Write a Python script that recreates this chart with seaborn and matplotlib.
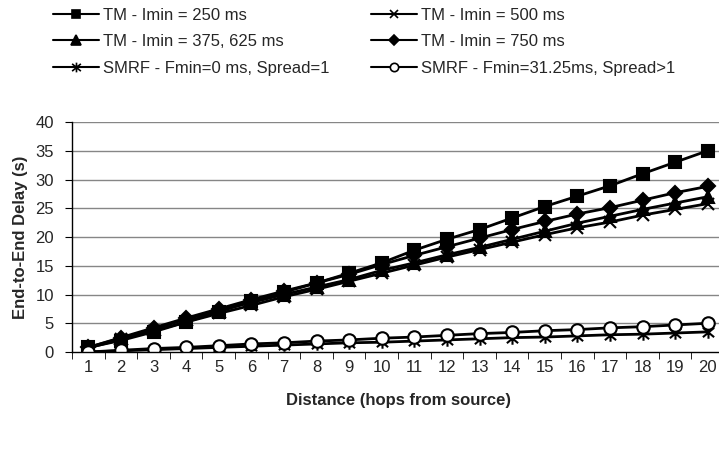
import numpy as np
import pandas as pd
import matplotlib
matplotlib.use("Agg")
import matplotlib.pyplot as plt
import seaborn as sns
from matplotlib.lines import Line2D
from matplotlib.path import Path

hops = list(range(1, 21))
tm_250 = [0.8, 2.0, 3.5, 5.2, 7.0, 8.8, 10.4, 12.0, 13.7, 15.5, 17.7, 19.6, 21.3, 23.3, 25.3, 27.1, 28.9, 31.0, 33.0, 35.0]
tm_500 = [0.7, 2.2, 3.7, 5.2, 6.7, 8.1, 9.6, 10.9, 12.3, 13.7, 15.1, 16.5, 17.8, 19.1, 20.4, 21.6, 22.6, 23.8, 24.8, 25.8]
tm_375_625 = [0.8, 2.4, 4.0, 5.7, 7.2, 8.6, 10.0, 11.3, 12.6, 14.2, 15.5, 16.9, 18.2, 19.6, 21.0, 22.4, 23.6, 24.8, 25.9, 27.0]
tm_750 = [0.8, 2.5, 4.2, 5.9, 7.5, 9.1, 10.6, 12.0, 13.5, 15.2, 16.8, 18.3, 19.8, 21.3, 22.7, 24.0, 25.1, 26.4, 27.7, 28.8]
smrf_0 = [0.0, 0.2, 0.4, 0.6, 0.8, 1.0, 1.2, 1.4, 1.6, 1.7, 1.9, 2.1, 2.3, 2.5, 2.6, 2.8, 3.0, 3.1, 3.3, 3.5]
smrf_31 = [0.0, 0.3, 0.6, 0.8, 1.1, 1.4, 1.6, 1.9, 2.1, 2.4, 2.6, 2.9, 3.2, 3.4, 3.7, 3.9, 4.2, 4.4, 4.7, 5.0]

labels = ["TM - Imin = 250 ms", "TM - Imin = 500 ms", "TM - Imin = 375, 625 ms",
          "TM - Imin = 750 ms", "SMRF - Fmin=0 ms, Spread=1", "SMRF - Fmin=31.25ms, Spread>1"]
series = [tm_250, tm_500, tm_375_625, tm_750, smrf_0, smrf_31]

asterisk = Path([(0, -1), (0, 1), (-0.9, -0.75), (0.9, 0.75), (-0.9, 0.75), (0.9, -0.75)],
                [Path.MOVETO, Path.LINETO, Path.MOVETO, Path.LINETO, Path.MOVETO, Path.LINETO])
styles = {
    labels[0]: dict(marker="s", mfc="black", ms=9, lms=6),
    labels[1]: dict(marker="x", mfc="black", ms=8, lms=6),
    labels[2]: dict(marker="^", mfc="black", ms=9, lms=7),
    labels[3]: dict(marker="D", mfc="black", ms=7, lms=5),
    labels[4]: dict(marker=asterisk, mfc="black", ms=9, lms=7),
    labels[5]: dict(marker="o", mfc="white", ms=9, lms=6),
}

sns.set_style("white")
plt.rcParams['font.family'] = ['Liberation Sans', 'DejaVu Sans']

fig = plt.figure(figsize=(7.19, 4.73), dpi=100)
ax = fig.add_axes([72/719, 1-352/473, 652/719, 230/473])

for lab, vals in zip(labels, series):
    st = styles[lab]
    df = pd.DataFrame({"hop": hops, "delay": vals})
    sns.lineplot(data=df, x="hop", y="delay", ax=ax, color="black", lw=2,
                 marker=st["marker"], markersize=st["ms"], markerfacecolor=st["mfc"],
                 markeredgecolor="black", markeredgewidth=1.5, legend=False)

ax.set_xlim(0.5, 20.5)
ax.set_ylim(0, 40)
ax.set_yticks(np.arange(0, 41, 5))
ax.set_xticks(hops)
ax.set_xticks(np.arange(0.5, 21, 1), minor=True)
ax.tick_params(axis="x", which="major", length=0, labelsize=12, pad=6)
ax.tick_params(axis="x", which="minor", length=5, direction="out", color="black", bottom=True)
ax.tick_params(axis="y", length=5, direction="out", color="black", labelsize=12, left=True, pad=8)
for y in range(5, 41, 5):
    ax.axhline(y, color="#868686", lw=1, zorder=0)
for s in ["top", "right"]:
    ax.spines[s].set_visible(False)
for s in ["left", "bottom"]:
    ax.spines[s].set_color("black")
    ax.spines[s].set_linewidth(1)
ax.set_xlabel("Distance (hops from source)", fontsize=12, fontweight="bold", labelpad=13)
ax.set_ylabel("End-to-End Delay (s)", fontsize=12, fontweight="bold", labelpad=5)

order = [0, 2, 4, 1, 3, 5]
handles = []
for i in order:
    st = styles[labels[i]]
    handles.append(Line2D([], [], color="black", lw=1.5, marker=st["marker"], markersize=st["lms"],
                          markerfacecolor=st["mfc"], markeredgecolor="black", markeredgewidth=1.2))
fig.legend(handles, [labels[i] for i in order], ncol=2, frameon=False, loc="upper left",
           bbox_to_anchor=(46/719, 1.0 - 1/473), borderaxespad=0, fontsize=12, handlelength=2.75,
           handletextpad=0.25, columnspacing=2.5, labelspacing=0.7)

fig.savefig("out.png", dpi=100)
